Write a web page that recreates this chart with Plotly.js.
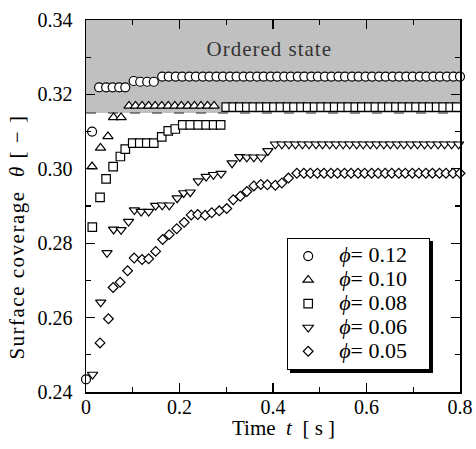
<!DOCTYPE html>
<html>
<head>
<meta charset="utf-8">
<script src="https://cdn.plot.ly/plotly-3.0.1.min.js"></script>
<style>html,body{margin:0;padding:0;background:#fff;}#chart{width:476px;height:449px;}</style>
</head>
<body>
<div id="chart"></div>
<script>
// ---- data ----
const seriesNames = ["0.12", "0.10", "0.08", "0.06", "0.05"];

const t012 = [0.000, 0.013, 0.028, 0.043, 0.057, 0.071, 0.084, 0.102, 0.116, 0.131, 0.145,
  0.163, 0.177, 0.192, 0.206, 0.221, 0.235, 0.250, 0.264, 0.279, 0.293,
  0.308, 0.322, 0.337, 0.351, 0.366, 0.380, 0.395, 0.409, 0.424, 0.438,
  0.453, 0.467, 0.482, 0.496, 0.511, 0.525, 0.540, 0.554, 0.569, 0.583,
  0.598, 0.612, 0.627, 0.641, 0.656, 0.670, 0.685, 0.699, 0.714, 0.728,
  0.743, 0.757, 0.772, 0.786, 0.800];
const th012 = [0.2434, 0.3100, 0.3219, 0.3219, 0.3219, 0.3219, 0.3219, 0.3236, 0.3234, 0.3234, 0.3234,
  0.3248, 0.3248, 0.3248, 0.3248, 0.3248, 0.3248, 0.3248, 0.3248, 0.3248, 0.3248,
  0.3248, 0.3248, 0.3248, 0.3248, 0.3248, 0.3248, 0.3248, 0.3248, 0.3248, 0.3248,
  0.3248, 0.3248, 0.3248, 0.3248, 0.3248, 0.3248, 0.3248, 0.3248, 0.3248, 0.3248,
  0.3248, 0.3248, 0.3248, 0.3248, 0.3248, 0.3248, 0.3248, 0.3248, 0.3248, 0.3248,
  0.3248, 0.3248, 0.3248, 0.3248, 0.3248];

const t010 = [0.013, 0.031, 0.047, 0.059, 0.075,
  0.092, 0.106, 0.120, 0.134, 0.148, 0.162, 0.176, 0.190, 0.204, 0.218, 0.232, 0.246, 0.260, 0.274];
const th010 = [0.3006, 0.3056, 0.3087, 0.3138, 0.3138,
  0.3169, 0.3169, 0.3169, 0.3169, 0.3169, 0.3169, 0.3169, 0.3169, 0.3169, 0.3169, 0.3169, 0.3169, 0.3169, 0.3169];

const t008 = [0.0135, 0.030, 0.043, 0.058, 0.0735, 0.084, 0.100, 0.115, 0.130, 0.145,
  0.162, 0.176, 0.191, 0.207, 0.223, 0.240, 0.257, 0.273, 0.288,
  0.300, 0.315, 0.329, 0.344, 0.358, 0.373, 0.387, 0.402, 0.416, 0.431,
  0.445, 0.460, 0.474, 0.489, 0.503, 0.518, 0.532, 0.547, 0.561, 0.576,
  0.590, 0.605, 0.619, 0.634, 0.648, 0.663, 0.677, 0.692, 0.706, 0.721,
  0.735, 0.750, 0.764, 0.779, 0.793];
const th008 = [0.2843, 0.2923, 0.2973, 0.3006, 0.3033, 0.3053, 0.3069, 0.3069, 0.3069, 0.3069,
  0.3086, 0.3102, 0.3107, 0.3118, 0.3118, 0.3118, 0.3118, 0.3118, 0.3118,
  0.3166, 0.3166, 0.3166, 0.3166, 0.3166, 0.3166, 0.3166, 0.3166, 0.3166, 0.3166,
  0.3166, 0.3166, 0.3166, 0.3166, 0.3166, 0.3166, 0.3166, 0.3166, 0.3166, 0.3166,
  0.3166, 0.3166, 0.3166, 0.3166, 0.3166, 0.3166, 0.3166, 0.3166, 0.3166, 0.3166,
  0.3166, 0.3166, 0.3166, 0.3166, 0.3166];

const t006 = [0.014, 0.0315, 0.045, 0.059, 0.075, 0.091, 0.1035, 0.118, 0.134, 0.149,
  0.163, 0.178, 0.195, 0.209, 0.223, 0.240, 0.257, 0.2726, 0.289, 0.3125,
  0.329, 0.344, 0.359, 0.3747, 0.389, 0.405,
  0.419, 0.434, 0.448, 0.463, 0.477, 0.492, 0.506, 0.521, 0.535, 0.550,
  0.564, 0.579, 0.593, 0.608, 0.622, 0.637, 0.651, 0.666, 0.680, 0.695,
  0.709, 0.724, 0.738, 0.753, 0.767, 0.782, 0.797];
const th006 = [0.2447, 0.2641, 0.2774, 0.2837, 0.2836, 0.2858, 0.2889, 0.2885, 0.2885, 0.2901,
  0.2902, 0.2902, 0.2921, 0.2935, 0.2937, 0.2967, 0.2979, 0.2984, 0.2987, 0.3015,
  0.3032, 0.3031, 0.3031, 0.3031, 0.3048, 0.3066,
  0.3066, 0.3066, 0.3066, 0.3066, 0.3066, 0.3066, 0.3066, 0.3066, 0.3066, 0.3066,
  0.3066, 0.3066, 0.3066, 0.3066, 0.3066, 0.3066, 0.3066, 0.3066, 0.3066, 0.3066,
  0.3066, 0.3066, 0.3066, 0.3066, 0.3066, 0.3066, 0.3066];

const t005 = [0.030, 0.048, 0.058, 0.073, 0.089, 0.103, 0.120, 0.134, 0.149, 0.164,
  0.178, 0.194, 0.210, 0.225, 0.239, 0.255, 0.269, 0.285, 0.301, 0.315,
  0.330, 0.344, 0.359, 0.374, 0.388, 0.405, 0.419, 0.433, 0.451,
  0.466, 0.480, 0.495, 0.509, 0.524, 0.538, 0.553, 0.567, 0.582, 0.596,
  0.611, 0.625, 0.640, 0.654, 0.669, 0.683, 0.698, 0.712, 0.727, 0.741,
  0.756, 0.770, 0.785, 0.800];
const th005 = [0.2532, 0.2597, 0.2681, 0.2695, 0.2726, 0.2760, 0.2756, 0.2758, 0.2778, 0.2810,
  0.2823, 0.2839, 0.2856, 0.2876, 0.2877, 0.2875, 0.2882, 0.2887, 0.2893, 0.2917,
  0.2926, 0.2939, 0.2954, 0.2958, 0.2957, 0.2956, 0.2962, 0.2975, 0.2988,
  0.2988, 0.2988, 0.2988, 0.2988, 0.2988, 0.2988, 0.2988, 0.2988, 0.2988, 0.2988,
  0.2988, 0.2988, 0.2988, 0.2988, 0.2988, 0.2988, 0.2988, 0.2988, 0.2988, 0.2988,
  0.2988, 0.2988, 0.2988, 0.2988];

const orderedLevel = 0.315;
const xRange = [0, 0.8];
const yRange = [0.24, 0.34];

// ---- styling ----
const FONT = "Liberation Serif";
const symbols = ["circle", "triangle-up", "square", "triangle-down", "diamond"];
const sizes = [9, 9, 8.5, 9, 7.5];
const xs = [t012, t010, t008, t006, t005];
const ys = [th012, th010, th008, th006, th005];

const traces = xs.map((x, i) => ({
  type: "scatter", mode: "markers", x: x, y: ys[i],
  cliponaxis: false,
  name: '<span style="font-size:22px">\u00a0\u00a0<i>\u03d5</i>= ' + seriesNames[i] + '\u00a0\u00a0\u00a0</span>',
  marker: {symbol: symbols[i], size: sizes[i], color: "#ffffff",
           line: {color: "#000000", width: 1.2}}
}));

const axisCommon = {
  showline: true, linecolor: "#000", linewidth: 1.5, mirror: "ticks",
  ticks: "inside", ticklen: 9, tickwidth: 1.2, tickcolor: "#000",
  showgrid: false, zeroline: false, fixedrange: true,
  tickfont: {family: FONT, size: 20, color: "#000"}
};

const baseShapes = [
  {type: "rect", xref: "x", yref: "y", x0: xRange[0], x1: xRange[1], y0: orderedLevel, y1: yRange[1],
   fillcolor: "#c0c0c0", line: {width: 0}, layer: "below"},
  {type: "line", xref: "x", yref: "y", x0: xRange[0], x1: xRange[1], y0: orderedLevel, y1: orderedLevel,
   line: {color: "#222", width: 1.2, dash: "10px,12px"}, layer: "below"}
];

const layout = {
  width: 476, height: 449,
  margin: {l: 86, r: 16, t: 20, b: 57},
  paper_bgcolor: "#fff", plot_bgcolor: "#fff",
  font: {family: FONT, color: "#000"},
  showlegend: true,
  legend: {x: 0.5374, y: 0.414, xanchor: "left", yanchor: "top",
           bgcolor: "#fff", bordercolor: "#000", borderwidth: 1.2,
           font: {family: FONT, size: 16, color: "#000"}, tracegroupgap: 0},
  xaxis: Object.assign({}, axisCommon, {range: xRange, dtick: 0.2, tick0: 0, ticklabelstandoff: -4,
           minor: {dtick: 0.1, ticks: "inside", ticklen: 5, tickwidth: 1.2, tickcolor: "#000"}}),
  yaxis: Object.assign({}, axisCommon, {range: yRange, dtick: 0.02, tick0: 0.24, tickformat: ".2f",
           ticklabelstandoff: 8,
           minor: {dtick: 0.01, ticks: "inside", ticklen: 5, tickwidth: 1.2, tickcolor: "#000"}}),
  shapes: baseShapes,
  annotations: [
    {xref: "x", yref: "y", x: 0.393, y: 0.3322, text: "Ordered state", showarrow: false,
     font: {family: FONT, size: 21, color: "#333"}},
    {xref: "paper", yref: "paper", x: 0.528, y: -0.0968, xanchor: "center", yanchor: "middle",
     text: "Time\u00a0\u00a0<i>t</i>\u00a0\u00a0[\u00a0s\u00a0]", showarrow: false,
     font: {family: FONT, size: 21, color: "#000"}},
    {xref: "paper", yref: "paper", x: -0.1845, y: 0.417, xanchor: "center", yanchor: "middle",
     textangle: -90, text: "Surface coverage\u00a0\u00a0<i>\u03b8</i> [ \u2212 ]", showarrow: false,
     font: {family: FONT, size: 21, color: "#000"}}
  ]
};

function spacing() {
  document.querySelectorAll(".annotation-text").forEach(el => {
    const t = el.textContent;
    if (t.indexOf("Surface") === 0) el.style.letterSpacing = "1.5px";
    else if (t.indexOf("Ordered") === 0) el.style.letterSpacing = "1px";
  });
}

Plotly.newPlot("chart", traces, layout, {displayModeBar: false, staticPlot: true}).then(gd => {
  const L = gd._fullLayout.legend;
  const pw = 476 - 86 - 16, ph = 449 - 20 - 57;
  const w = L._width || 148, h = L._height || 137;
  const off = 3;
  const lx = 0.5374, ly = 0.414;
  const shadow = {type: "rect", xref: "paper", yref: "paper",
    x0: lx + off / pw, x1: lx + (w + off) / pw, y0: ly - (h + off) / ph, y1: ly - off / ph,
    fillcolor: "#000", line: {width: 0}, layer: "above"};
  return Plotly.relayout(gd, {shapes: baseShapes.concat([shadow])});
}).then(spacing);
</script>
</body>
</html>
